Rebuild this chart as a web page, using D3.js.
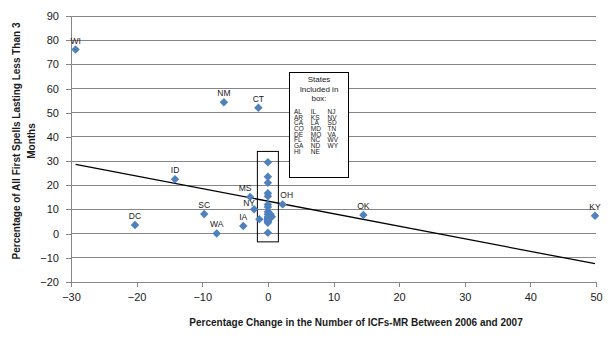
<!DOCTYPE html>
<html>
<head>
<meta charset="utf-8">
<script src="https://cdn.jsdelivr.net/npm/d3@7"></script>
<style>
  body { margin: 0; background: #fff; }
  svg { font-family: "Liberation Sans", Arial, sans-serif; }
</style>
</head>
<body>
<svg id="chart" width="615" height="339"></svg>
<script>
// States labelled on the chart
let states  = ["WI", "NM", "CT", "ID", "DC", "SC", "WA", "IA", "MS", "NY", "OH", "OK", "KY"];
let changeX = [-29.3, -6.7, -1.45, -14.15, -20.25, -9.7, -7.8, -3.75, -2.7, -2.1, 2.25, 14.55, 49.85];
let spellsY = [76.1, 54.3, 52.1, 22.5, 3.6, 8.1, 0.1, 3.2, 15.2, 10.1, 12.1, 7.7, 7.4];

// States grouped inside the box around zero change
let boxStates = ["AL", "AR", "CA", "CO", "DE", "FL", "GA", "HI", "IL", "KS", "LA", "MD",
                 "MO", "NC", "ND", "NE", "NJ", "NV", "SD", "TN", "VA", "WV", "WY"];
let boxX = [0, 0, 0, 0, 0, 0, 0, 0, 0, 0.6, 0, -1.3, 0, 0, 0.3, 0, 0, 0.2, 0, 0, 0.4, 0, 0];
let boxY = [29.5, 23.5, 21, 16.7, 15.5, 12, 9, 0.4, 7, 7, 5.6, 6, 6, 8, 6.5, 5, 11, 7.5, 6, 4.5, 8, 5.5, 6.5];

let xTicks = [-30, -20, -10, 0, 10, 20, 30, 40, 50];
let yTicks = [-20, -10, 0, 10, 20, 30, 40, 50, 60, 70, 80, 90];

let xTitle = "Percentage Change in the Number of ICFs-MR Between 2006 and 2007";
let yTitle = ["Percentage of All First Spells Lasting Less Than 3", "Months"];
let legendTitle = ["States", "Included in", "box:"];

// Build one list of points
let points = states.map((s, i) => ({ state: s, x: changeX[i], y: spellsY[i], labelled: true }))
  .concat(boxStates.map((s, i) => ({ state: s, x: boxX[i], y: boxY[i], labelled: false })));

let svg = d3.select("#chart");
let grey = "#868686";

let x = d3.scaleLinear().domain([-30, 50]).range([71, 596]);
let y = d3.scaleLinear().domain([-20, 90]).range([282, 16]);

// horizontal gridlines
svg.append("g")
  .selectAll("line")
  .data(yTicks.filter(d => d > -20))
  .join("line")
  .attr("x1", x(-30)).attr("x2", x(50))
  .attr("y1", d => y(d)).attr("y2", d => y(d))
  .attr("stroke", grey)
  .attr("stroke-width", 1)
  .attr("shape-rendering", "crispEdges");

// axes
let yAxis = d3.axisLeft(y).tickValues(yTicks).tickSize(5).tickSizeOuter(0).tickPadding(7);
let xAxis = d3.axisBottom(x).tickValues(xTicks).tickSize(5).tickSizeOuter(0).tickPadding(6);

let gy = svg.append("g").attr("transform", "translate(" + x(-30) + ",0)").call(yAxis);
let gx = svg.append("g").attr("transform", "translate(0," + y(-20) + ")").call(xAxis);

[gx, gy].forEach(g => {
  g.select(".domain").attr("stroke", grey).attr("shape-rendering", "crispEdges");
  g.selectAll(".tick line").attr("stroke", grey).attr("shape-rendering", "crispEdges");
  g.selectAll(".tick text")
    .attr("fill", "#1a1a1a")
    .style("font-size", "11px")
    .style("font-family", "'Liberation Sans', Arial, sans-serif");
});

// linear trendline (least squares over all states)
let mx = d3.mean(points, d => d.x);
let my = d3.mean(points, d => d.y);
let sxy = d3.sum(points, d => (d.x - mx) * (d.y - my));
let sxx = d3.sum(points, d => (d.x - mx) * (d.x - mx));
let slope = sxy / sxx;
let intercept = my - slope * mx;
let xExt = d3.extent(points, d => d.x);

svg.append("line")
  .attr("x1", x(xExt[0])).attr("y1", y(intercept + slope * xExt[0]))
  .attr("x2", x(xExt[1])).attr("y2", y(intercept + slope * xExt[1]))
  .attr("stroke", "#000")
  .attr("stroke-width", 1.3);

// box around the cluster of states near zero
svg.append("rect")
  .attr("x", x(-1.6)).attr("y", y(34))
  .attr("width", x(1.6) - x(-1.6))
  .attr("height", y(-3.4) - y(34))
  .attr("fill", "none")
  .attr("stroke", "#000")
  .attr("stroke-width", 1);

// diamond markers
let diamond = d3.symbol(d3.symbolSquare, 36);
svg.append("g")
  .selectAll("path")
  .data(points)
  .join("path")
  .attr("d", diamond)
  .attr("transform", d => "translate(" + x(d.x) + "," + y(d.y) + ") rotate(45)")
  .attr("fill", "#4F81BD");

// state labels above markers
let nudge = { MS: [-5, 0], NY: [-5, 3], OH: [4, 0] };
svg.append("g")
  .selectAll("text")
  .data(points.filter(d => d.labelled))
  .join("text")
  .attr("x", d => x(d.x) + (nudge[d.state] ? nudge[d.state][0] : 0))
  .attr("y", d => y(d.y) - 6 + (nudge[d.state] ? nudge[d.state][1] : 0))
  .attr("text-anchor", "middle")
  .style("font-size", "8.5px")
  .attr("fill", "#1a1a1a")
  .text(d => d.state);

// legend of boxed states
let legend = svg.append("g");
legend.append("rect")
  .attr("x", 289.5).attr("y", 72.5)
  .attr("width", 59).attr("height", 105)
  .attr("fill", "#fff")
  .attr("stroke", "#000")
  .attr("stroke-width", 1);

legend.selectAll("text.head")
  .data(legendTitle)
  .join("text")
  .attr("class", "head")
  .attr("x", 319)
  .attr("y", (d, i) => 82 + i * 9.5)
  .attr("text-anchor", "middle")
  .style("font-size", "8px")
  .attr("fill", "#1a1a1a")
  .text(d => d);

let perCol = 8;
legend.selectAll("text.st")
  .data(boxStates)
  .join("text")
  .attr("class", "st")
  .attr("x", (d, i) => 294 + Math.floor(i / perCol) * 16.8)
  .attr("y", (d, i) => 114 + (i % perCol) * 5.65)
  .style("font-size", "6.5px")
  .attr("fill", "#1a1a1a")
  .text(d => d);

// axis titles
svg.append("text")
  .attr("x", 356).attr("y", 326)
  .attr("text-anchor", "middle")
  .style("font-size", "10px")
  .style("font-weight", "bold")
  .attr("fill", "#1a1a1a")
  .text(xTitle);

let yt = svg.append("text")
  .attr("transform", "translate(20,141) rotate(-90)")
  .attr("text-anchor", "middle")
  .style("font-size", "10px")
  .style("font-weight", "bold")
  .attr("fill", "#1a1a1a");
yt.selectAll("tspan")
  .data(yTitle)
  .join("tspan")
  .attr("x", 0)
  .attr("dy", (d, i) => i === 0 ? 0 : 15)
  .text(d => d);
</script>
</body>
</html>
